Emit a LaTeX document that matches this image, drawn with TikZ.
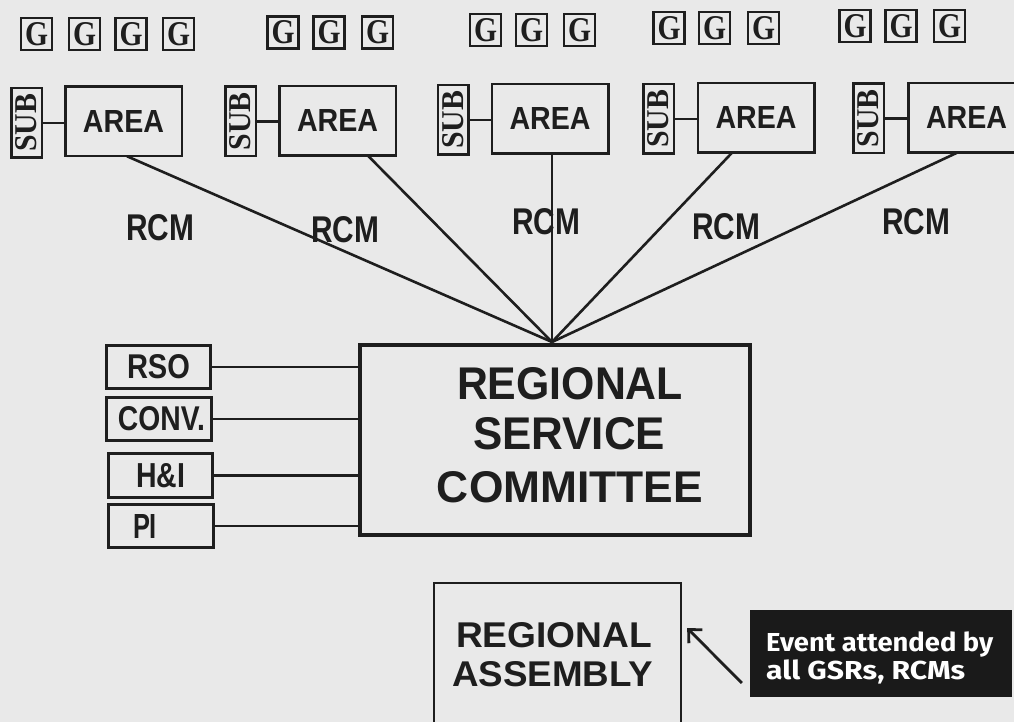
\documentclass[tikz,border=0pt]{standalone}
\usepackage{fontspec}
\usepackage{graphicx}
\usetikzlibrary{calc,arrows.meta}
\newfontfamily\hv{Liberation Sans}
\newfontfamily\tm{Liberation Serif}
\newfontfamily\fira{Fira Sans}
\definecolor{paper}{RGB}{233,233,233}
\definecolor{ink}{RGB}{30,30,30}
\definecolor{panel}{RGB}{26,26,26}
\newcommand\fitbox[3]{\resizebox{#1pt}{#2pt}{#3}}
\newcommand\gl{\fitbox{23}{23}{G}}
\newcommand\subl{\rotatebox{90}{\fitbox{58}{21}{SUB}}}
\newcommand\fitw[2]{\resizebox{#1pt}{\height}{#2}}
\begin{document}
\begin{tikzpicture}[x=1pt,y=-1pt,
  lbl/.style={inner sep=0pt, outer sep=0pt, text=ink, font=\hv\bfseries\fontsize{30}{30}\selectfont},
  serif/.style={inner sep=0pt, outer sep=0pt, text=ink, font=\tm\bfseries\fontsize{32}{32}\selectfont},
  gbox/.style={serif, draw=ink, line width=2.8pt, minimum width=31pt, minimum height=32pt},
  subbox/.style={serif, draw=ink, line width=2.5pt, minimum width=30.5pt, minimum height=69.5pt},
  areabox/.style={lbl, draw=ink, line width=2.5pt, minimum width=116.5pt, minimum height=69.5pt},
  sidebox/.style={lbl, draw=ink, line width=2.8pt, minimum width=104.5pt, minimum height=43.5pt},
  thinline/.style={draw=ink, line width=2.5pt},
  rcmline/.style={draw=ink, line width=2.6pt},
  sideline/.style={draw=ink, line width=2.6pt}]
\useasboundingbox (0,0) rectangle (1014,722);
\fill[paper] (0,0) rectangle (1014,722);
\clip (0,0) rectangle (1014,722);

% G boxes
\node[gbox] (g11) at (36.5,34) {\gl};
\node[gbox] (g12) at (84.5,34) {\gl};
\node[gbox] (g13) at (131,34) {\gl};
\node[gbox] (g14) at (178.5,34) {\gl};
\node[gbox] (g21) at (283,32.5) {\gl};
\node[gbox] (g22) at (329,32.5) {\gl};
\node[gbox] (g23) at (377.5,32.5) {\gl};
\node[gbox] (g31) at (485.5,30) {\gl};
\node[gbox] (g32) at (531.5,30) {\gl};
\node[gbox] (g33) at (579.5,30) {\gl};
\node[gbox] (g41) at (669,28) {\gl};
\node[gbox] (g42) at (714.5,28) {\gl};
\node[gbox] (g43) at (763.5,28) {\gl};
\node[gbox] (g51) at (855,26) {\gl};
\node[gbox] (g52) at (901,26) {\gl};
\node[gbox] (g53) at (949.5,26) {\gl};

% SUB and AREA
\node[subbox] (sub1) at (26.5,123) {\subl};
\node[subbox] (sub2) at (240.5,121.5) {\subl};
\node[subbox] (sub3) at (453,120) {\subl};
\node[subbox] (sub4) at (658.5,119) {\subl};
\node[subbox] (sub5) at (868.5,118.5) {\subl};
\node[areabox] (area1) at (123.5,121.5) {\fitbox{81}{22}{AREA}};
\node[areabox] (area2) at (337.5,121) {\fitbox{81}{22}{AREA}};
\node[areabox] (area3) at (550,119) {\fitbox{81}{22}{AREA}};
\node[areabox] (area4) at (756,118) {\fitbox{81}{22}{AREA}};
\node[areabox] (area5) at (966.5,118) {\fitbox{81}{22}{AREA}};
\foreach \i in {1,...,5}{
  \draw[thinline] (sub\i.east) -- (sub\i.east -| area\i.west);
}

% RCM labels
\node[lbl] (rcm1) at (160,228) {\fitbox{68}{26}{RCM}};
\node[lbl] (rcm2) at (345,230) {\fitbox{68}{26}{RCM}};
\node[lbl] (rcm3) at (546,222) {\fitbox{68}{26}{RCM}};
\node[lbl] (rcm4) at (726,227) {\fitbox{68}{26}{RCM}};
\node[lbl] (rcm5) at (916,222) {\fitbox{68}{26}{RCM}};

% Regional Service Committee
\node[draw=ink, line width=4pt, minimum width=390pt, minimum height=190pt, inner sep=0pt] (rsc) at (555,440) {};
\node[lbl] (rsct1) at (570,384) {\fitbox{226}{32}{REGIONAL}};
\node[lbl] (rsct2) at (569,434) {\fitbox{192}{32}{SERVICE}};
\node[lbl] (rsct3) at (570,487.5) {\fitbox{266}{31}{COMMITTEE}};
\coordinate (apex) at ($(rsc.north)+(-3,-1)$);

\draw[rcmline] ($(area1.south)+(3.5,0)$) -- (apex);
\draw[rcmline] ($(area2.south)+(30.5,0)$) -- (apex);
\draw[rcmline] ($(area3.south)+(2,0)$) -- (apex);
\draw[rcmline] ($(area4.south)+(-24,0)$) -- (apex);
\draw[rcmline] ($(area5.south)+(-9.5,0)$) -- (apex);

% side committees
\node[sidebox] (rso) at (158.5,367) {\fitbox{63}{24}{RSO}};
\node[sidebox] (conv) at (159,419) {\hspace{5pt}\fitbox{87}{24}{CONV.}};
\node[sidebox] (hi) at (160.5,475.5) {\fitbox{49}{24}{H\&I}\hspace{6pt}};
\node[sidebox] (pi) at (161,526) {};
\node[lbl] (pitext) at (145,526) {\fitbox{24}{24}{PI}};
\draw[sideline] (rso.east) -- (rso.east -| rsc.west);
\draw[sideline] (conv.east) -- (conv.east -| rsc.west);
\draw[sideline] (hi.east) -- (hi.east -| rsc.west);
\draw[sideline] (pi.east) -- (pi.east -| rsc.west);

% Regional Assembly
\node[draw=ink, line width=2.3pt, minimum width=247pt, minimum height=177pt, inner sep=0pt] (ra) at (557.5,671.5) {};
\node[lbl] (rat1) at (554,635.5) {\fitbox{196}{25}{REGIONAL}};
\node[lbl] (rat2) at (552.5,674.5) {\fitbox{201}{25}{ASSEMBLY}};

% event panel
\node[fill=panel, minimum width=262pt, minimum height=87pt, inner sep=0pt] (evt) at (881,653.5) {};
\node[anchor=base west, inner sep=0pt, text=white, font=\fira\bfseries\fontsize{26}{26}\selectfont] (evt1) at (766,651) {\fitw{227}{Event attended by}};
\node[anchor=base west, inner sep=0pt, text=white, font=\fira\bfseries\fontsize{26}{26}\selectfont] (evt2) at (766,679) {\fitw{199}{all GSRs, RCMs}};
\coordinate (atail) at ($(evt.west)+(-8,29.5)$);
\coordinate (atip) at ($(ra.east)+(5,-43.5)$);
\draw[draw=ink, line width=2.8pt, -{Straight Barb[length=10pt,width=19pt]}] (atail) -- (atip);
\end{tikzpicture}
\end{document}
